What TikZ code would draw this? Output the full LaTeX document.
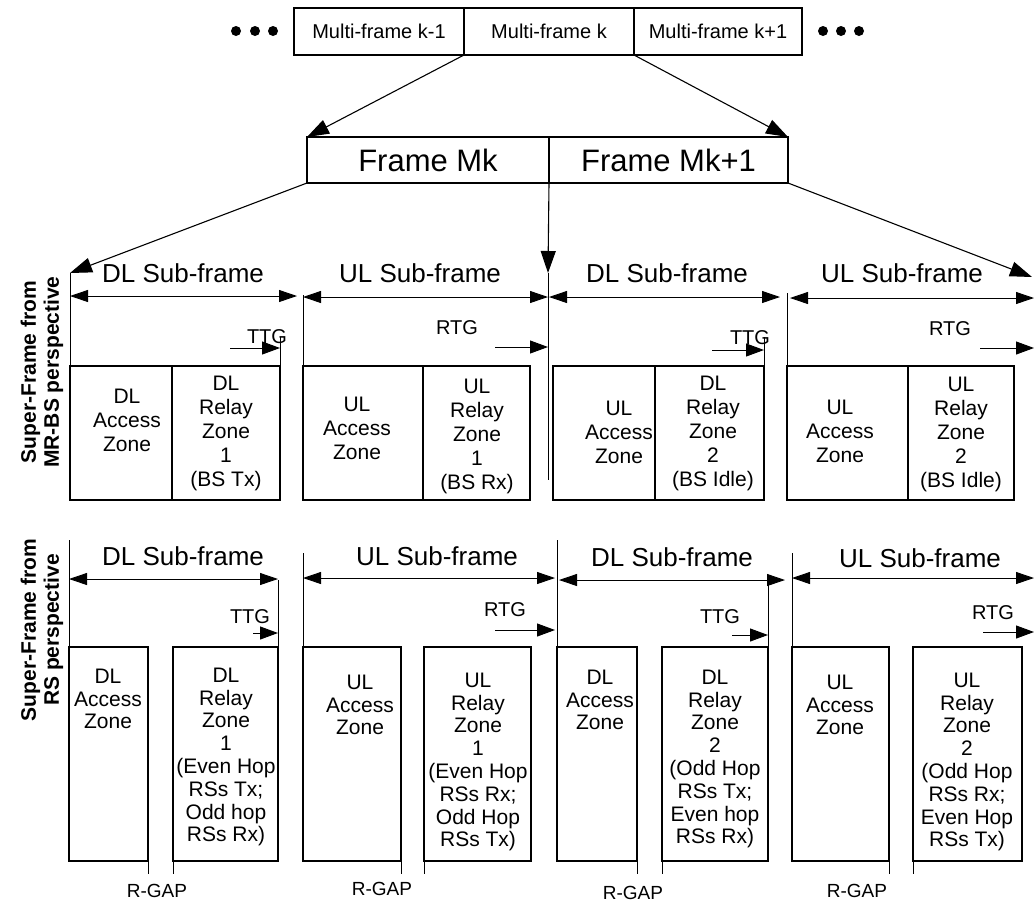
\documentclass[tikz,border=0pt]{standalone}
\usepackage{fontspec}
\setmainfont{Liberation Sans}
\usetikzlibrary{arrows.meta}
\begin{document}
\begin{tikzpicture}[x=1pt,y=-1pt,
  zbox/.style={draw, line width=2.6pt, inner sep=0pt, outer sep=0pt, anchor=north west},
  fbox/.style={draw, line width=2.2pt, inner sep=0pt, outer sep=0pt, anchor=north west},
  thinln/.style={line width=0.9pt},
  bigarr/.style={line width=1.1pt, -{Triangle[length=22pt,width=15pt]}},
  dblarr/.style={line width=0.9pt, {Triangle[length=18pt,width=12pt]}-{Triangle[length=18pt,width=12pt]}},
  gaparr/.style={line width=1pt, -{Triangle[length=18pt,width=13pt]}},
  ztxt/.style={font=\fontsize{21}{24}\selectfont, align=center, inner sep=0pt},
  rtxt/.style={font=\fontsize{21}{22.8}\selectfont, align=center, inner sep=0pt},
  subtxt/.style={font=\fontsize{26}{28}\selectfont, inner sep=0pt},
  gtxt/.style={font=\fontsize{20}{22}\selectfont, inner sep=0pt},
  side/.style={rotate=90, font=\bfseries\fontsize{21}{23}\selectfont, align=center, inner sep=0pt},
  dot/.style={circle, fill, inner sep=0pt, minimum size=10pt}
]
\useasboundingbox (0,0) rectangle (1034,914);

% ---------- top row ----------
\node[dot] (d1) at (236,31) {};
\node[dot] (d2) at (255,31) {};
\node[dot] (d3) at (273,31) {};
\node[fbox, minimum width=170pt, minimum height=47pt] (mf1) at (294,8) {};
\node[fbox, minimum width=170pt, minimum height=47pt] (mf2) at (464,8) {};
\node[fbox, minimum width=168pt, minimum height=47pt] (mf3) at (634,8) {};
\node[dot] (d4) at (823,31) {};
\node[dot] (d5) at (841,31) {};
\node[dot] (d6) at (859,31) {};
\node[font=\fontsize{20}{22}\selectfont, inner sep=0pt] (mt1) at (mf1.center) {Multi-frame k-1};
\node[font=\fontsize{20}{22}\selectfont, inner sep=0pt] (mt2) at (mf2.center) {Multi-frame k};
\node[font=\fontsize{20}{22}\selectfont, inner sep=0pt] (mt3) at (mf3.center) {Multi-frame k+1};

% ---------- frame row ----------
\node[fbox, minimum width=242pt, minimum height=46pt] (fr1) at (307,137) {};
\node[fbox, minimum width=239pt, minimum height=46pt] (fr2) at (549,137) {};
\node[font=\fontsize{31}{33}\selectfont, inner sep=0pt] (ft1) at (fr1.center) {Frame Mk};
\node[font=\fontsize{31}{33}\selectfont, inner sep=0pt] (ft2) at (fr2.center) {Frame Mk+1};

\draw[bigarr] (mf2.south west) -- (fr1.north west);
\draw[bigarr] (mf2.south east) -- (fr2.north east);

\coordinate (t1) at (70,273);
\coordinate (t2) at (548,273);
\coordinate (t3) at (1032,277);
\draw[bigarr] (fr1.south west) -- (t1);
\draw[bigarr] (fr1.south east) -- (t2);
\draw[bigarr] (fr2.south east) -- (t3);

% ---------- MR-BS perspective ----------
\node[side] (lab1) at (42,372) {Super-Frame from\\MR-BS perspective};

\node[zbox, minimum width=102pt, minimum height=134pt] (a1) at (70,366) {};
\node[zbox, minimum width=108pt, minimum height=134pt] (r1) at (172,366) {};
\node[zbox, minimum width=120pt, minimum height=134pt] (a2) at (303,366) {};
\node[zbox, minimum width=107pt, minimum height=134pt] (r2) at (423,366) {};
\node[zbox, minimum width=102pt, minimum height=134pt] (a3) at (553,366) {};
\node[zbox, minimum width=109pt, minimum height=134pt] (r3) at (655,366) {};
\node[zbox, minimum width=121pt, minimum height=134pt] (a4) at (787,366) {};
\node[zbox, minimum width=106pt, minimum height=134pt] (r4) at (908,366) {};

\node[ztxt] (a1t) at (127,420) {DL\\Access\\Zone};
\node[ztxt] (r1t) at (226,433) {DL\\Relay\\Zone\\1\\(BS Tx)};
\node[ztxt] (a2t) at (357,428) {UL\\Access\\Zone};
\node[ztxt] (r2t) at (477,436) {UL\\Relay\\Zone\\1\\(BS Rx)};
\node[ztxt] (a3t) at (619,432) {UL\\Access\\Zone};
\node[ztxt] (r3t) at (713,433) {DL\\Relay\\Zone\\2\\(BS Idle)};
\node[ztxt] (a4t) at (840,431) {UL\\Access\\Zone};
\node[ztxt] (r4t) at (961,434) {UL\\Relay\\Zone\\2\\(BS Idle)};

% vertical guide lines
\coordinate (v2b) at (548,480);
\coordinate (v1a) at (280,337);
\coordinate (v2a) at (303,295);
\coordinate (v3a) at (764,337);
\coordinate (v4a) at (787,293);
\draw[thinln] (t1) -- (a1.north west);
\draw[thinln] (t2) -- (v2b);
\draw[thinln] (v1a) -- (r1.north east);
\draw[thinln] (v2a) -- (a2.north west);
\draw[thinln] (v3a) -- (r3.north east);
\draw[thinln] (v4a) -- (a4.north west);

% sub-frame labels and arrows
\node[subtxt] (s1) at (183,273) {DL Sub-frame};
\node[subtxt] (s2) at (420,273) {UL Sub-frame};
\node[subtxt] (s3) at (667,273) {DL Sub-frame};
\node[subtxt] (s4) at (902,273) {UL Sub-frame};
\coordinate (s1a) at (70,296); \coordinate (s1b) at (297,296);
\coordinate (s2a) at (303,297); \coordinate (s2b) at (548,297);
\coordinate (s3a) at (549,297); \coordinate (s3b) at (780,297);
\coordinate (s4a) at (790,298); \coordinate (s4b) at (1034,298);
\draw[dblarr] (s1a) -- (s1b);
\draw[dblarr] (s2a) -- (s2b);
\draw[dblarr] (s3a) -- (s3b);
\draw[dblarr] (s4a) -- (s4b);

% gaps
\node[gtxt] (g1) at (267,337) {TTG};
\node[gtxt] (g2) at (457,328) {RTG};
\node[gtxt] (g3) at (750,338) {TTG};
\node[gtxt] (g4) at (950,329) {RTG};
\coordinate (g1a) at (230,348); \coordinate (g1b) at (280,348);
\coordinate (g2a) at (495,347); \coordinate (g2b) at (548,347);
\coordinate (g3a) at (712,350); \coordinate (g3b) at (764,350);
\coordinate (g4a) at (980,348); \coordinate (g4b) at (1034,348);
\draw[gaparr] (g1a) -- (g1b);
\draw[gaparr] (g2a) -- (g2b);
\draw[gaparr] (g3a) -- (g3b);
\draw[gaparr] (g4a) -- (g4b);

% ---------- RS perspective ----------
\node[side] (lab2) at (42,630) {Super-Frame from\\RS perspective};

\node[zbox, minimum width=79pt, minimum height=214pt] (ra1) at (69,647) {};
\node[zbox, minimum width=105pt, minimum height=214pt] (rr1) at (173,647) {};
\node[zbox, minimum width=98pt, minimum height=214pt] (ra2) at (303,647) {};
\node[zbox, minimum width=107pt, minimum height=214pt] (rr2) at (424,647) {};
\node[zbox, minimum width=80pt, minimum height=214pt] (ra3) at (557,647) {};
\node[zbox, minimum width=106pt, minimum height=214pt] (rr3) at (662,647) {};
\node[zbox, minimum width=97pt, minimum height=214pt] (ra4) at (792,647) {};
\node[zbox, minimum width=109pt, minimum height=214pt] (rr4) at (913,647) {};

\node[rtxt] (ra1t) at (108,699) {DL\\Access\\Zone};
\node[rtxt] (rr1t) at (226,757) {DL\\Relay\\Zone\\1\\(Even Hop\\RSs Tx;\\Odd hop\\RSs Rx)};
\node[rtxt] (ra2t) at (360,705) {UL\\Access\\Zone};
\node[rtxt] (rr2t) at (478,762) {UL\\Relay\\Zone\\1\\(Even Hop\\RSs Rx;\\Odd Hop\\RSs Tx)};
\node[rtxt] (ra3t) at (600,700) {DL\\Access\\Zone};
\node[rtxt] (rr3t) at (715,759) {DL\\Relay\\Zone\\2\\(Odd Hop\\RSs Tx;\\Even hop\\RSs Rx)};
\node[rtxt] (ra4t) at (840,705) {UL\\Access\\Zone};
\node[rtxt] (rr4t) at (967,762) {UL\\Relay\\Zone\\2\\(Odd Hop\\RSs Rx;\\Even Hop\\RSs Tx)};

% vertical guide lines
\coordinate (w1a) at (69,540);
\coordinate (w1b) at (278,580);
\coordinate (w2a) at (303,553);
\coordinate (w3a) at (557,540);
\coordinate (w3b) at (557,760);
\coordinate (w3c) at (768,580);
\coordinate (w4a) at (792,553);
\draw[thinln] (w1a) -- (ra1.north west);
\draw[thinln] (w1b) -- (rr1.north east);
\draw[thinln] (w2a) -- (ra2.north west);
\draw[thinln] (w3a) -- (w3b);
\draw[thinln] (w3c) -- (rr3.north east);
\draw[thinln] (w4a) -- (ra4.north west);

% sub-frame labels and arrows
\node[subtxt] (q1) at (183,556) {DL Sub-frame};
\node[subtxt] (q2) at (437,556) {UL Sub-frame};
\node[subtxt] (q3) at (672,557) {DL Sub-frame};
\node[subtxt] (q4) at (920,558) {UL Sub-frame};
\coordinate (q1a) at (69,579); \coordinate (q1b) at (278,579);
\coordinate (q2a) at (303,578); \coordinate (q2b) at (555,578);
\coordinate (q3a) at (559,580); \coordinate (q3b) at (785,580);
\coordinate (q4a) at (792,578); \coordinate (q4b) at (1034,578);
\draw[dblarr] (q1a) -- (q1b);
\draw[dblarr] (q2a) -- (q2b);
\draw[dblarr] (q3a) -- (q3b);
\draw[dblarr] (q4a) -- (q4b);

% gaps
\node[gtxt] (h1) at (250,617) {TTG};
\node[gtxt] (h2) at (505,610) {RTG};
\node[gtxt] (h3) at (720,617) {TTG};
\node[gtxt] (h4) at (993,613) {RTG};
\coordinate (h1a) at (253,633); \coordinate (h1b) at (278,633);
\coordinate (h2a) at (495,630); \coordinate (h2b) at (555,630);
\coordinate (h3a) at (732,635); \coordinate (h3b) at (768,635);
\coordinate (h4a) at (983,632); \coordinate (h4b) at (1034,632);
\draw[gaparr] (h1a) -- (h1b);
\draw[gaparr] (h2a) -- (h2b);
\draw[gaparr] (h3a) -- (h3b);
\draw[gaparr] (h4a) -- (h4b);

% R-GAP markers
\draw[thinln] (ra1.south east) -- ++(0,13);
\draw[thinln] (rr1.south west) -- ++(0,13);
\draw[thinln] (ra2.south east) -- ++(0,13);
\draw[thinln] (rr2.south west) -- ++(0,13);
\draw[thinln] (ra3.south east) -- ++(0,13);
\draw[thinln] (rr3.south west) -- ++(0,13);
\draw[thinln] (ra4.south east) -- ++(0,13);
\draw[thinln] (rr4.south west) -- ++(0,13);
\node[gtxt, font=\fontsize{19}{21}\selectfont] (rg1) at (157,891) {R-GAP};
\node[gtxt, font=\fontsize{19}{21}\selectfont] (rg2) at (382,889) {R-GAP};
\node[gtxt, font=\fontsize{19}{21}\selectfont] (rg3) at (633,893) {R-GAP};
\node[gtxt, font=\fontsize{19}{21}\selectfont] (rg4) at (857,891) {R-GAP};
\end{tikzpicture}
\end{document}
